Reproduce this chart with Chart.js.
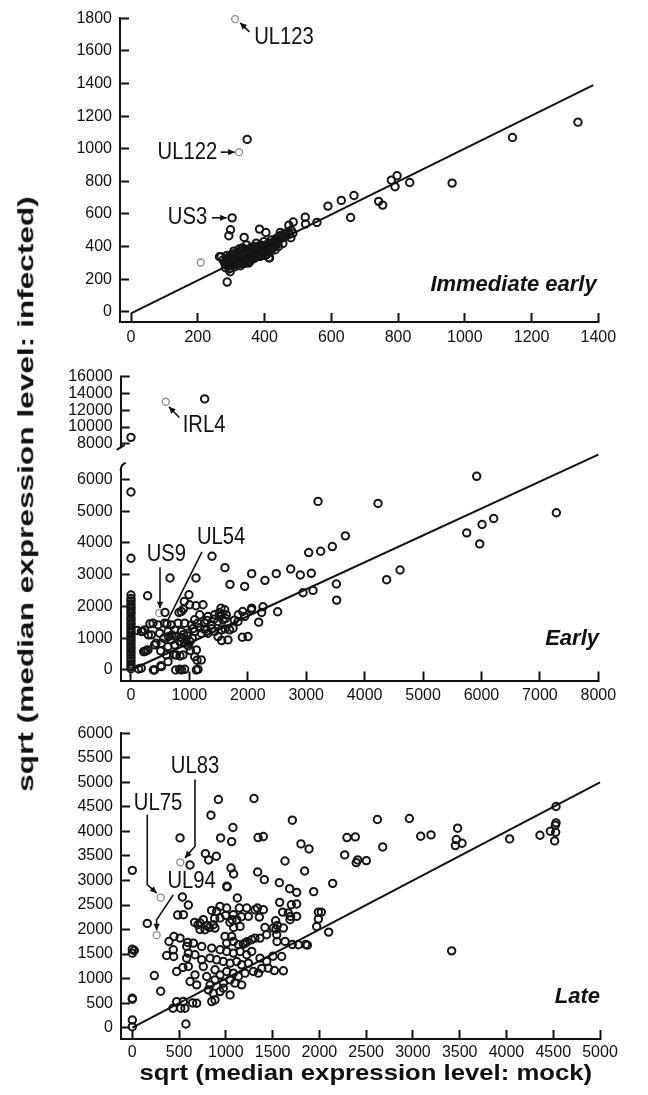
<!DOCTYPE html>
<html><head><meta charset="utf-8">
<script src="https://cdn.jsdelivr.net/npm/chart.js@4.4.1/dist/chart.umd.min.js"></script>
<style>
html,body{margin:0;padding:0;background:#fff;}
body{width:648px;height:1095px;position:relative;overflow:hidden;font-family:"Liberation Sans",Arial,sans-serif;}
canvas{position:absolute;left:0;}
.title{position:absolute;font-weight:bold;font-size:22px;white-space:nowrap;color:#111;line-height:26px;}
</style></head><body>
<canvas id="c1"></canvas>
<canvas id="c2"></canvas>
<canvas id="c3"></canvas>
<canvas id="c4"></canvas>
<div id="ytitle" class="title">sqrt (median expression level: infected)</div>
<div id="xtitle" class="title">sqrt (median expression level: mock)</div>
<script>
// ================= DATA =================
// Immediate early panel
const ieTicksX = [0,200,400,600,800,1000,1200,1400];
const ieTicksY = [0,200,400,600,800,1000,1200,1400,1600,1800];
const ieGenes = [
 [348,1057],[1143,1069],[1339,1163],[780,807],[797,834],[791,767],[835,793],[962,789],
 [590,648],[630,683],[668,713],[658,578],[742,677],[754,654],[522,580],[523,538],[557,548],
 [486,550],[473,531],[303,576],[298,503],[293,466],[385,507],[404,486],[288,182],[265,337],
 [339,456],[455,419],[479,454],[447,486],[413,331],[297,245],
 [270,337],[276,318],[280,300],[283,290],[285,312],[288,325],[290,280],[292,305],[295,340],
 [296,295],[298,268],[300,318],[302,350],[303,286],[305,330],[307,300],[308,372],[310,275],
 [312,312],[314,345],[316,290],[318,365],[320,320],[322,300],[324,385],[326,340],[328,282],
 [330,355],[332,310],[334,392],[336,330],[338,296],[340,365],[342,318],[344,345],[346,410],
 [348,300],[350,380],[352,335],[355,355],[358,312],[360,395],[362,340],[365,370],[368,325],
 [370,400],[372,350],[375,420],[378,338],[380,372],[383,390],[386,355],[388,410],[390,345],
 [393,380],[396,362],[398,430],[400,375],[403,395],[406,350],[408,405],[410,385],[413,420],
 [415,330],[418,400],[420,440],[423,410],[426,395],[430,435],[433,420],[436,450],[440,430],
 [443,460],[446,445],[450,470],[455,455],[460,478],[465,465],[470,490],[475,475],[480,500],[485,482],
 [283,270],[287,345],[291,318],[294,262],[299,332],[301,300],[304,355],[309,320],[311,290],[315,330],
 [319,305],[321,350],[325,318],[327,370],[331,295],[333,340],[337,360],[341,300],[343,380],[347,330],
 [351,362],[353,300],[357,385],[361,325],[364,350],[367,390],[371,335],[374,365],[377,395],[381,350],
 [384,370],[387,340],[391,400],[394,360],[397,385],[401,345],[405,410],[409,370],[412,395],[416,365],
 [419,420],[422,385],[428,405],[432,380],[438,415],[442,400]
];
const ieHighlighted = [[312,1795],[324,979],[209,302]];
const ieFit = [[0,-10],[1385,1390]];

// Early panel
const earlyTicksX = [0,1000,2000,3000,4000,5000,6000,7000,8000];
const earlyTicksYLow = [0,1000,2000,3000,4000,5000,6000];
const earlyTicksYHigh = [8000,10000,12000,14000,16000];
const earlyGenesHigh = [[0,8780],[1261,13356]];
const earlyHighlightedHigh = [[594,13017]];
const earlyGenes = [
 [0,5600],[0,3516],[0,2360],[0,2250],[0,2170],[0,2080],[0,1990],[0,1920],[0,1830],[0,1760],
 [0,1650],[0,1580],[0,1490],[0,1420],[0,1330],[0,1250],[0,1170],[0,1080],[0,990],[0,910],
 [0,820],[0,730],[0,650],[0,560],[0,470],[0,380],[0,290],[0,190],[0,110],[0,40],
 [5918,6095],[3202,5305],[4229,5242],[7282,4947],[6209,4768],[6010,4579],[5747,4316],[5970,3968],
 [3670,4221],[3447,3884],[3247,3737],[3042,3695],[1387,3579],[1609,3221],[668,2895],[1113,2895],
 [1695,2695],[1946,2632],[2066,3032],[2294,2821],[2488,3032],[2734,3179],[2899,2989],[3087,3042],
 [2945,2432],[3116,2505],[3516,2705],[3521,2200],[4377,2842],[4606,3147],[2511,1832],[2260,1989],
 [2237,1810],[2186,1505],[2066,1947],[1906,1032],[1912,1842],[1838,1737],[1769,1568],[1609,1295],
 [1552,926],[1541,1947],[1513,1810],[285,2337],[993,2368],[1113,2021],[913,2158],[896,1916],
 [822,1810],[582,1810],[325,1453],[200,1210],[108,1242],[297,1105],[428,842],[508,600],[217,578],
 [262,611],[131,32],[382,0],[513,137],[765,0],[867,0],[1119,0],[1130,305],[839,442],[742,474],[1016,611],
 [1004,2052],[862,1842],[1233,2052],[1176,1736],[1090,1579],[1318,1684],[1432,1736],[1490,1526],
 [1604,1894],[1632,1736],[1575,1579],[1375,1421],[1261,1473],[1147,1473],[1033,1421],[919,1473],
 [805,1473],[690,1421],[576,1473],[462,1421],[377,1473],[234,1263],[177,1210],[348,1105],[491,1158],
 [634,1210],[748,1263],[862,1210],[976,1158],[1090,1210],[1204,1158],[1318,1158],[1432,1210],
 [1547,1263],[1690,1263],[1747,1315],[1490,1052],[776,1052],[690,947],[833,894],[748,789],[919,842],
 [634,736],[519,842],[405,789],[234,578],[291,631],[605,473],[776,473],[890,473],[1119,631],[1090,421],
 [1204,316],[177,53],[405,0],[519,105],[634,263],[833,21],[919,21],[1147,21],[2003,1052],[1832,1526],
 [1946,1684],[2060,1894],[880,1000],[940,960],[960,1080],[1010,900],[900,1120],[850,1020],[1050,1000],
 [980,760],[1060,1300],[700,1100],[640,1050],[560,1000],[1180,1330],[1260,1280],[1380,1300],
 [1300,1560],[1420,1600],[1520,1680],[1620,1620],[1661,947],[616,1452]
];
const earlyHighlighted = [[485,1789]];
const earlyFit = [[0,0],[8000,6780]];

// Late panel
const lateTicksX = [0,500,1000,1500,2000,2500,3000,3500,4000,4500,5000];
const lateTicksY = [0,500,1000,1500,2000,2500,3000,3500,4000,4500,5000,5500,6000];
const lateGenes = [
 [0,3207],[920,4651],[1301,4672],[841,4331],[1711,4229],[2620,4243],[2962,4263],[1076,4079],
 [3478,4066],[4530,4508],[510,3868],[944,3868],[1344,3875],[1401,3895],[1062,3793],[2295,3875],
 [2384,3888],[3083,3902],[3193,3929],[4034,3848],[4358,3922],[4469,4004],[4530,4175],[4523,4127],
 [4526,3984],[4515,3807],[3464,3834],[3454,3711],[3525,3759],[1803,3746],[1889,3643],[2677,3684],
 [2270,3521],[2394,3364],[2409,3419],[2502,3405],[781,3548],[816,3419],[898,3494],[617,3316],
 [1055,3255],[1083,3133],[1632,3398],[1842,3194],[1340,3173],[1411,3017],[1572,2956],[1009,2881],
 [1015,2870],[2142,2942],[1682,2833],[1757,2758],[1939,2772],[1123,2642],[1575,2554],[1700,2506],
 [1757,2520],[535,2663],[599,2499],[485,2295],[937,2472],[848,2390],[880,2227],[998,2288],[1044,2145],
 [1066,2200],[1083,2043],[1144,2438],[1166,2261],[1311,2404],[1337,2438],[1358,2254],[1607,2356],
 [1693,2268],[1532,2179],[1536,2009],[1550,2084],[1418,2043],[1436,1893],[1547,1757],[1711,1696],
 [1853,1696],[1871,1682],[1989,2356],[2021,2356],[1989,2213],[1971,2063],[2099,1948],[160,2125],
 [666,2145],[702,2098],[723,2002],[802,2084],[823,2043],[445,1859],[392,1757],[367,1471],[438,1587],
 [442,1450],[592,1736],[599,1519],[474,1144],[541,1226],[235,1062],[303,742],[474,531],[435,395],
 [517,395],[573,75],[645,504],[0,157],[0,20],[0,599],[0,579],[0,1600],[21,1573],[0,1519],[3414,1566],
 [1504,1457],[1383,1205],[1518,1164],[1311,1825],[1226,1750],[1187,1703],
 [902,2371],[1009,2439],[1080,2303],[1223,2439],[1241,2269],[1401,2405],[1668,2337],[1757,2269],
 [546,2303],[759,2201],[724,2132],[866,2098],[777,1996],[884,2030],[938,2235],[1116,2201],[1152,2064],
 [1508,2030],[1615,2030],[1686,2201],[1544,1894],[1633,1758],[1365,1826],[1276,1792],[991,1860],
 [1062,1860],[1009,1724],[1080,1758],[1134,1690],[1205,1724],[510,1826],[581,1656],[653,1724],
 [742,1656],[849,1622],[938,1588],[1009,1554],[1080,1520],[1152,1554],[1223,1486],[1276,1554],
 [1365,1417],[1437,1349],[1597,1451],[1775,1690],[581,1417],[670,1486],[742,1383],[831,1417],
 [902,1383],[973,1349],[1045,1315],[1116,1349],[1169,1281],[1241,1315],[1294,1145],[1348,1111],
 [1454,1213],[1615,1159],[599,1247],[670,1077],[759,1247],[795,1043],[884,1179],[938,1077],
 [1009,1145],[1080,1111],[1134,1043],[1205,1111],[617,941],[688,873],[831,873],[884,975],[973,907],
 [1045,975],[1098,907],[1169,873],[813,771],[866,702],[938,736],[973,804],[1045,668],[849,532],
 [884,566],[688,498],[546,532],[563,396]
];
const lateHighlighted = [[513,3371],[303,2649],[260,1886]];
const lateFit = [[0,0],[5000,5000]];

// ================= RENDERING =================
const FONT = '"Liberation Sans", Arial, sans-serif';
const INK = '#111';
const toXY = arr => arr.map(p => ({x: p[0], y: p[1]}));

function pointSet(arr, gray) {
  return {type:'scatter', data: toXY(arr), pointStyle:'circle', clip: 8,
    pointRadius: gray ? 3.5 : 3.7, borderWidth: gray ? 1.3 : 2,
    borderColor: gray ? '#8c8c8c' : '#151515', backgroundColor:'rgba(0,0,0,0)'};
}
function fitLine(arr) {
  return {type:'line', data: toXY(arr), showLine:true, borderColor: INK, borderWidth:2,
    pointRadius:0, fill:false, clip:false};
}
function makeScale(kind, min, max, ticks, fixedSize, show, pad) {
  return {
    type:'linear', min, max, display: show,
    border:{display:true, color:INK, width:2},
    grid:{display:true, drawOnChartArea:false, drawTicks:true, tickLength:-9, tickWidth:2, tickColor:INK},
    ticks:{autoSkip:false, maxRotation:0, minRotation:0, color:INK, font:{family:FONT, size:16}, padding:pad,
      callback: v => String(v)},
    afterBuildTicks: s => { s.ticks = ticks.map(v => ({value: v})); },
    afterFit: s => {
      if (kind === 'x') { s.height = fixedSize; s.paddingLeft = 0; s.paddingRight = 0; }
      else { s.width = fixedSize; s.paddingTop = 0; s.paddingBottom = 0; }
    }
  };
}

const geneLabelPlugin = {
  id:'geneLabels',
  afterDatasetsDraw(chart, args, opts) {
    const items = (opts && opts.items) || [];
    const ctx = chart.ctx, xs = chart.scales.x, ys = chart.scales.y;
    ctx.save();
    for (const it of items) {
      const px = xs.getPixelForValue(it.at[0]), py = ys.getPixelForValue(it.at[1]);
      ctx.strokeStyle = INK; ctx.lineWidth = 1.6;
      ctx.beginPath();
      it.path.forEach(([dx,dy],i) => i ? ctx.lineTo(px+dx, py+dy) : ctx.moveTo(px+dx, py+dy));
      ctx.stroke();
      if (it.head !== false) {
        const n = it.path.length;
        const [ax,ay] = it.path[n-2], [bx,by] = it.path[n-1];
        const ang = Math.atan2(by-ay, bx-ax), hl = 6.5, hw = 3.2;
        const tx = px+bx, ty = py+by;
        ctx.fillStyle = INK;
        ctx.beginPath(); ctx.moveTo(tx, ty);
        ctx.lineTo(tx - hl*Math.cos(ang) + hw*Math.sin(ang), ty - hl*Math.sin(ang) - hw*Math.cos(ang));
        ctx.lineTo(tx - hl*Math.cos(ang) - hw*Math.sin(ang), ty - hl*Math.sin(ang) + hw*Math.cos(ang));
        ctx.closePath(); ctx.fill();
      }
      // slightly condensed lettering, like the original figure
      const sx = 0.88;
      ctx.save();
      ctx.translate(px + it.dx, py + it.dy);
      ctx.scale(sx, 1);
      ctx.fillStyle = INK;
      ctx.font = '23px ' + FONT;
      ctx.textAlign = it.align; ctx.textBaseline = 'middle';
      ctx.fillText(it.text, 0, 0);
      ctx.restore();
    }
    ctx.restore();
  }
};
const panelLabelPlugin = {
  id:'panelLabel',
  afterDraw(chart, args, o) {
    if (!o || !o.text) return;
    const ctx = chart.ctx, ca = chart.chartArea;
    ctx.save();
    ctx.fillStyle = INK; ctx.font = 'italic bold 22px ' + FONT;
    ctx.textAlign = 'right'; ctx.textBaseline = 'middle';
    ctx.fillText(o.text, ca.right + o.dx, ca.bottom + o.dy);
    ctx.restore();
  }
};
const breakPlugin = {
  id:'axisBreak',
  afterDraw(chart, args, o) {
    if (!o || !o.side) return;
    const ctx = chart.ctx, ca = chart.chartArea;
    ctx.save(); ctx.strokeStyle = INK; ctx.lineWidth = 2;
    ctx.beginPath();
    if (o.side === 'bottom') { ctx.moveTo(ca.left - 4, ca.bottom + 3.5); ctx.lineTo(ca.left + 4, ca.bottom - 1.5); }
    else { ctx.moveTo(ca.left + 5, ca.top - 7); ctx.quadraticCurveTo(ca.left, ca.top - 5, ca.left, ca.top + 1); }
    ctx.stroke(); ctx.restore();
  }
};

function build(id, cTop, cH, area, cfg) {
  const cv = document.getElementById(id);
  cv.width = 648; cv.height = cH; cv.style.top = cTop + 'px';
  const xH = cTop + cH - area.bottom;
  return new Chart(cv, {
    type:'scatter',
    data:{datasets: cfg.datasets},
    options:{
      responsive:false, animation:false, devicePixelRatio:1, events:[],
      layout:{padding:{top: area.top - cTop, right: 648 - area.right, left:0, bottom: cfg.showX ? 0 : xH}},
      scales:{
        x: makeScale('x', cfg.xMin, cfg.xMax, cfg.xTicks, xH, cfg.showX, cfg.xPad),
        y: makeScale('y', cfg.yMin, cfg.yMax, cfg.yTicks, area.left, true, 17)
      },
      plugins:{legend:{display:false}, tooltip:{enabled:false},
        geneLabels:{items: cfg.labels || []}, panelLabel: cfg.panel || {}, axisBreak: cfg.brk || {}}
    },
    plugins:[geneLabelPlugin, panelLabelPlugin, breakPlugin]
  });
}

// Panel 1: Immediate early
build('c1', 0, 350, {left:120, top:18.3, right:598.3, bottom:322}, {
  showX:true, xMin:-33, xMax:1400, xTicks:ieTicksX, yMin:-63, yMax:1800, yTicks:ieTicksY, xPad:15,
  datasets:[fitLine(ieFit), pointSet(ieGenes,false), pointSet(ieHighlighted,true)],
  labels:[
    {at:ieHighlighted[0], text:'UL123', align:'left', dx:19, dy:18.5, path:[[14.3,12.7],[5,3.7]]},
    {at:ieHighlighted[1], text:'UL122', align:'right', dx:-22, dy:0.5, path:[[-18.3,0],[-4.5,0]]},
    {at:[303,576], text:'US3', align:'right', dx:-25, dy:0, path:[[-20,0],[-5.5,0]]}
  ],
  panel:{text:'Immediate early', dx:-1.6, dy:-37}
});
// Panel 2 upper (above axis break)
build('c2', 360, 110, {left:120.7, top:376.7, right:598.3, bottom:458.2}, {
  showX:false, xMin:-176, xMax:8000, xTicks:earlyTicksX, yMin:7700, yMax:16000, yTicks:earlyTicksYHigh, xPad:14,
  datasets:[pointSet(earlyGenesHigh,false), pointSet(earlyHighlightedHigh,true)],
  labels:[
    {at:earlyHighlightedHigh[0], text:'IRL4', align:'left', dx:17, dy:24.3, path:[[13.6,15.7],[3.3,5]]}
  ],
  brk:{side:'bottom'}
});
// Panel 2 lower
build('c3', 440, 270, {left:120.7, top:469.8, right:598.3, bottom:680.5}, {
  showX:true, xMin:-176, xMax:8000, xTicks:earlyTicksX, yMin:-331, yMax:6300, yTicks:earlyTicksYLow, xPad:14,
  datasets:[fitLine(earlyFit), pointSet(earlyGenes,false), pointSet(earlyHighlighted,true)],
  labels:[
    {at:earlyHighlighted[0], text:'US9', align:'center', dx:7, dy:-58.3, path:[[0.7,-46],[0.7,-5]]},
    {at:[616,1452], text:'UL54', align:'left', dx:30, dy:-86, path:[[35,-72],[1,-4]], head:false}
  ],
  panel:{text:'Early', dx:0.7, dy:-41.5},
  brk:{side:'top'}
});
// Panel 3: Late
build('c4', 715, 380, {left:121, top:733.3, right:600, bottom:1039}, {
  showX:true, xMin:-121, xMax:5000, xTicks:lateTicksX, yMin:-231, yMax:6000, yTicks:lateTicksY, xPad:12.5,
  datasets:[fitLine(lateFit), pointSet(lateGenes,false), pointSet(lateHighlighted,true)],
  labels:[
    {at:lateHighlighted[0], text:'UL83', align:'center', dx:14.7, dy:-95.2, path:[[14.7,-82.7],[14.7,-16],[4.7,-4.4]]},
    {at:lateHighlighted[1], text:'UL75', align:'center', dx:-2.7, dy:-94, path:[[-13.4,-83],[-13.4,-13],[-4,-4.7]]},
    {at:lateHighlighted[2], text:'UL94', align:'center', dx:35, dy:-53.3, path:[[16.6,-40.3],[0,-15.3],[0,-4.8]]}
  ],
  panel:{text:'Late', dx:0, dy:-42.5}
});

// Axis titles
function placeTitle(id, targetLen, cx, cy, rotate) {
  const el = document.getElementById(id);
  const w = el.offsetWidth, h = el.offsetHeight;
  el.style.left = (cx - w/2) + 'px';
  el.style.top = (cy - h/2) + 'px';
  el.style.transform = (rotate ? 'rotate(-90deg) ' : '') + 'scaleX(' + (targetLen / w) + ')';
}
placeTitle('ytitle', 595, 26, 494, true);
placeTitle('xtitle', 453, 365.5, 1073, false);
</script>
</body></html>
